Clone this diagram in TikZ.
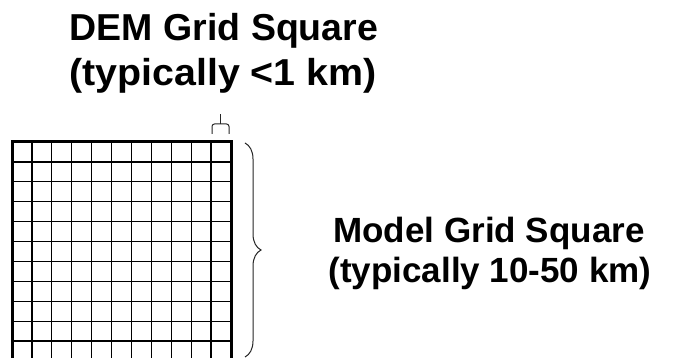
\documentclass[tikz,border=0pt]{standalone}
\usepackage{fontspec}
\setmainfont{Liberation Sans}
\usetikzlibrary{decorations.pathreplacing,calc}
\begin{document}
\begin{tikzpicture}[x=1pt,y=1pt,
  lbl/.style={font=\fontsize{35}{42}\selectfont\bfseries, inner sep=0pt, anchor=base},
  biglbl/.style={font=\fontsize{37.5}{45}\selectfont\bfseries, inner sep=0pt, anchor=base},
  gridline/.style={line width=1.2pt},
  frame/.style={line width=3pt},
  bracepath/.style={line width=1pt, black!85}]
\useasboundingbox (0,0) rectangle (675,358);
\clip (0,0) rectangle (675,358);
\fill[white] (0,0) rectangle (675,358);
% grid
\coordinate (gtl) at (12,216);
\coordinate (gbr) at (231,-3);
\draw[gridline, shift={(gtl)}] (0,0) grid[step=19.909] (219,-219);
\draw[frame] (gtl) rectangle (gbr);
% small brace above last column
\coordinate (sbl) at (212,224);
\coordinate (sbr) at (229,224);
\coordinate (sbt) at (220.5,244);
\draw[bracepath, rounded corners=2.5pt] (sbl) |- ($(sbt)+(0,-10)$) -| (sbr);
\draw[bracepath] ($(sbt)+(0,-10)$) -- (sbt);
% big brace right of grid
\coordinate (bbt) at (245,215);
\coordinate (bbb) at (245,1);
\draw[bracepath, decorate, decoration={brace, amplitude=16pt}] (bbt) -- (bbb);
% labels
\node[biglbl] (dem1) at (224,317) {DEM Grid Square};
\node[biglbl, xscale=1.05] (dem2) at (223,272) {(typically <1 km)};
\node[lbl] (model1) at (489,115) {Model Grid Square};
\node[lbl] (model2) at (490,75) {(typically 10-50 km)};
\end{tikzpicture}
\end{document}
